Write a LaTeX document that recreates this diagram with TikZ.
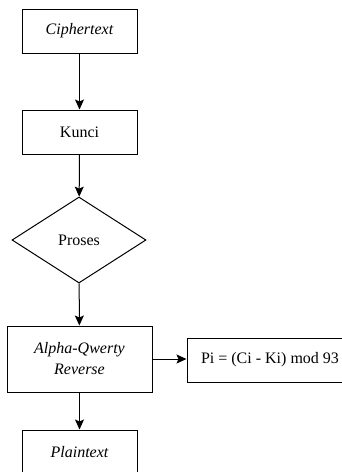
\documentclass[tikz,border=0pt]{standalone}
\usepackage{fontspec}
\setmainfont{Liberation Serif}
\usetikzlibrary{shapes.geometric,arrows.meta}
\begin{document}
\begin{tikzpicture}[x=1pt,y=-1pt,
  box/.style={draw,line width=1pt,rectangle,inner sep=0pt,align=center,font=\fontsize{16}{21}\selectfont},
  dia/.style={draw,line width=1pt,diamond,inner sep=0pt,minimum width=134pt,minimum height=86pt,font=\fontsize{16}{21}\selectfont},
  flow/.style={line width=1pt,-{Stealth[length=10pt,width=9pt,inset=2pt]}}]
\useasboundingbox (0,0) rectangle (341,472);
\node[box,minimum width=115pt,minimum height=44pt] (c) at (79.5,31) {\itshape Ciphertext};
\node[box,minimum width=115pt,minimum height=44pt] (k) at (79.5,132) {Kunci};
\node[dia] (p) at (79,240) {Proses};
\node[box,minimum width=145pt,minimum height=66pt] (a) at (79.5,359) {\itshape Alpha-Qwerty\\\itshape Reverse};
\node[box,minimum width=166pt,minimum height=44pt] (f) at (270,360) {Pi = (Ci - Ki) mod 93};
\node[box,minimum width=115pt,minimum height=44pt] (t) at (79.5,452) {\itshape Plaintext};
\draw[flow] (c) -- (k);
\draw[flow] (k) -- (p);
\draw[flow] (p) -- (a);
\draw[flow] (a.east) -- (a.east -| f.west);
\draw[flow] (a) -- (t);
\end{tikzpicture}
\end{document}
